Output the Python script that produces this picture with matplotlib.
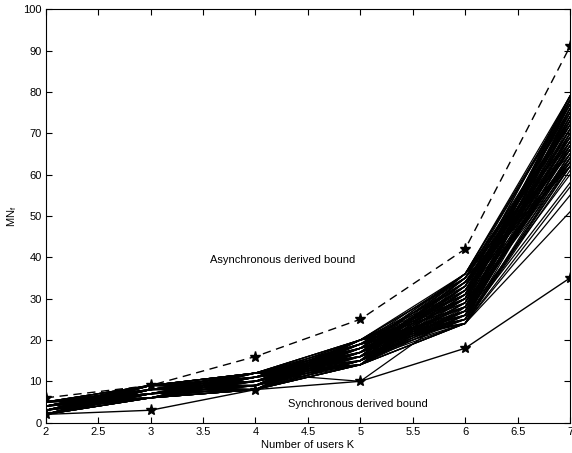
import matplotlib.pyplot as plt

plt.rcParams['font.family'] = ['Liberation Sans', 'DejaVu Sans']
plt.rcParams['mathtext.fontset'] = 'custom'
plt.rcParams['mathtext.rm'] = 'Liberation Sans'
plt.rcParams['mathtext.it'] = 'Liberation Sans'

# number of users K
users = [2, 3, 4, 5, 6, 7]

# derived bounds
async_bound = [6, 9, 16, 25, 42, 91]
sync_bound = [2, 3, 8, 10, 18, 35]

# simulated MN_f curves (one row per run)
runs = [
    [5, 9, 12, 20, 36, 79],
    [2, 6, 8, 14, 24, 57],
    [4, 6, 12, 15, 35, 62],
    [2, 9, 8, 20, 25, 78],
    [3, 8, 10, 17, 30, 79],
    [5, 7, 11, 16, 24, 76],
    [4, 9, 9, 19, 36, 66],
    [3, 6, 12, 18, 26, 74],
    [5, 8, 8, 14, 33, 70],
    [2, 7, 11, 20, 28, 62],
    [4, 8, 9, 15, 31, 77],
    [3, 9, 10, 19, 27, 66],
    [5, 6, 12, 17, 34, 72],
    [2, 8, 11, 16, 29, 69],
    [4, 7, 10, 18, 32, 64],
    [3, 9, 8, 15, 25, 68],
    [5, 7, 9, 20, 35, 75],
    [2, 6, 10, 19, 30, 71],
    [4, 9, 11, 14, 26, 73],
    [3, 8, 12, 16, 25, 58],
    [5, 6, 9, 18, 28, 71],
    [2, 7, 12, 17, 36, 65],
    [4, 8, 8, 19, 24, 63],
    [3, 7, 11, 20, 31, 78],
    [5, 9, 10, 15, 26, 60],
    [2, 8, 9, 16, 34, 69],
    [4, 6, 11, 17, 27, 76],
    [3, 9, 12, 14, 32, 67],
    [5, 8, 10, 18, 25, 62],
    [2, 7, 8, 20, 30, 74],
    [4, 9, 12, 16, 35, 73],
    [3, 6, 9, 19, 26, 65],
    [5, 7, 11, 15, 33, 79],
    [2, 9, 10, 17, 28, 64],
    [4, 8, 12, 20, 24, 64],
    [3, 6, 8, 18, 36, 77],
    [5, 9, 9, 14, 31, 66],
    [2, 8, 11, 19, 27, 72],
    [4, 7, 8, 17, 34, 67],
    [3, 8, 12, 15, 29, 75],
    [5, 6, 10, 16, 32, 68],
    [2, 9, 11, 18, 25, 70],
    [4, 7, 9, 20, 35, 63],
    [3, 8, 10, 14, 30, 78],
    [3, 7, 9, 17, 33, 71],
    [4, 8, 11, 19, 29, 77],
    [2, 6, 9, 15, 27, 64],
    [5, 9, 12, 18, 31, 73],
    [3, 8, 10, 16, 35, 69],
    [4, 7, 12, 20, 26, 75],
    [2, 9, 10, 14, 32, 66],
    [5, 6, 8, 17, 28, 78],
    [3, 7, 11, 19, 34, 62],
    [4, 9, 9, 15, 30, 74],
    [2, 8, 12, 18, 24, 67],
    [5, 7, 10, 16, 36, 72],
    [3, 6, 8, 20, 29, 79],
    [4, 9, 11, 14, 27, 65],
    [2, 7, 9, 17, 33, 76],
    [5, 8, 12, 19, 25, 70],
    [3, 9, 10, 15, 31, 63],
    [4, 6, 11, 18, 35, 78],
    [2, 8, 8, 16, 26, 68],
    [5, 7, 9, 20, 32, 74],
    [3, 8, 12, 14, 28, 71],
    [4, 9, 10, 17, 34, 66],
    [2, 6, 11, 19, 30, 77],
    [5, 7, 8, 15, 24, 62],
    [3, 9, 9, 18, 36, 73],
    [4, 8, 12, 16, 27, 69],
    [2, 7, 10, 20, 33, 79],
    [5, 6, 11, 14, 29, 64],
    [3, 8, 9, 17, 25, 67],
    [4, 9, 12, 19, 31, 75],
    [2, 7, 8, 15, 35, 72],
    [5, 8, 10, 18, 26, 65],
    [3, 6, 11, 16, 32, 76],
    [4, 7, 9, 20, 28, 70],
    [2, 9, 12, 14, 34, 68],
    [5, 8, 11, 17, 30, 63],
    [3, 7, 10, 19, 24, 61],
    [4, 6, 8, 15, 36, 78],
    [2, 8, 9, 18, 27, 73],
    [5, 9, 12, 16, 33, 66],
    [2, 6, 8, 14, 24, 51],
    [2, 6, 8, 14, 24, 55],
    [3, 7, 12, 10, 28, 63],
]

fig = plt.figure(figsize=(5.72, 4.53), dpi=100)
ax = fig.add_axes([0.08, 0.067, 0.9165, 0.9125])

for r in runs:
    ax.plot(users, r, color='black', linewidth=0.9)

ax.plot(users, async_bound, color='black', linestyle=(0, (6, 4)), linewidth=1.0,
        marker='*', markersize=8)
ax.plot(users, sync_bound, color='black', linewidth=1.0, marker='*', markersize=8)

ax.text(3.57, 39.4, "Asynchronous derived bound", fontsize=8, va='center')
ax.text(4.31, 4.5, "Synchronous derived bound", fontsize=8, va='center')

ax.set_xlim(2, 7)
ax.set_ylim(0, 100)
ax.set_xticks([2, 2.5, 3, 3.5, 4, 4.5, 5, 5.5, 6, 6.5, 7])
ax.set_xticklabels(['2', '2.5', '3', '3.5', '4', '4.5', '5', '5.5', '6', '6.5', '7'])
ax.set_yticks(range(0, 101, 10))
ax.tick_params(direction='in', top=True, right=True, labelsize=8, length=4, pad=3)
ax.set_xlabel("Number of users K", fontsize=8, labelpad=2)
ax.set_ylabel(r"MN$_\mathregular{f}$", fontsize=8, labelpad=3)

fig.savefig("out.png", dpi=100)
